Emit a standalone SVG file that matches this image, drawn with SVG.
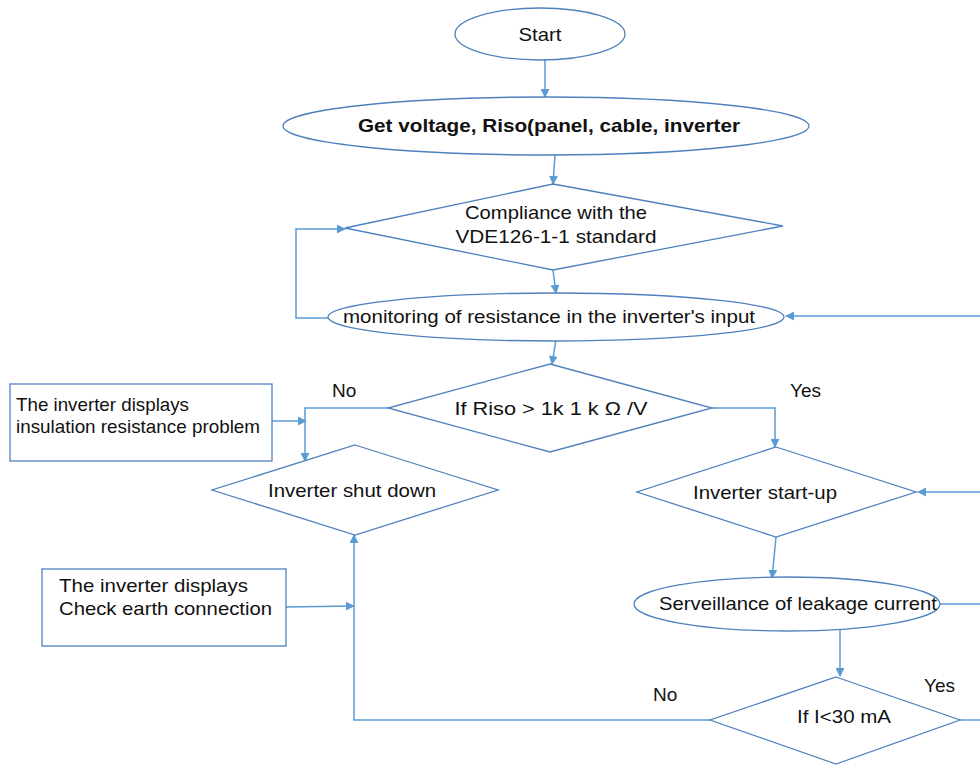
<svg xmlns="http://www.w3.org/2000/svg" width="980" height="765" viewBox="0 0 980 765">
<style>
.s{fill:#fff;stroke:#4f81bd;stroke-width:1.3}
.c{fill:none;stroke:#5b9bd5;stroke-width:1.5}
text{font-family:"Liberation Sans",Arial,sans-serif;font-size:19px;fill:#111}
.m{text-anchor:middle}
</style>
<defs>
<marker id="a" viewBox="0 0 10 10" refX="9" refY="5" markerWidth="9" markerHeight="9" markerUnits="userSpaceOnUse" orient="auto">
<path d="M0,0 L10,5 L0,10 z" fill="#5b9bd5"/>
</marker>
</defs>
<rect width="980" height="765" fill="#fff"/>
<g id="connectors">
<path class="c" d="M545,60 L545,97" marker-end="url(#a)"/>
<path class="c" d="M555,155 L553,184" marker-end="url(#a)"/>
<path class="c" d="M553,270 L556,293" marker-end="url(#a)"/>
<path class="c" d="M328,318 L296,318 L296,229 L345,229" marker-end="url(#a)"/>
<path class="c" d="M980,316 L786,316" marker-end="url(#a)"/>
<path class="c" d="M556,340 L552,364" marker-end="url(#a)"/>
<path class="c" d="M388,408 L305,408 L305,461" marker-end="url(#a)"/>
<path class="c" d="M272,421 L306,421" marker-end="url(#a)"/>
<path class="c" d="M712,408 L775,408 L775,447" marker-end="url(#a)"/>
<path class="c" d="M980,492 L918,492" marker-end="url(#a)"/>
<path class="c" d="M776,537 L772,578" marker-end="url(#a)"/>
<path class="c" d="M940,604 L980,604"/>
<path class="c" d="M840,630 L840,676" marker-end="url(#a)"/>
<path class="c" d="M710,720 L354,720 L354,535" marker-end="url(#a)"/>
<path class="c" d="M960,720 L980,720"/>
<path class="c" d="M286,607 L354,606" marker-end="url(#a)"/>
</g>
<g id="start">
<ellipse class="s" cx="540" cy="34" rx="85" ry="26"/>
<text class="m" x="540" y="41" font-size="20" textLength="43" lengthAdjust="spacingAndGlyphs">Start</text>
</g>
<g id="get-voltage">
<ellipse class="s" cx="546" cy="126" rx="263" ry="29"/>
<text class="m" x="549" y="132" font-weight="bold" textLength="382" lengthAdjust="spacingAndGlyphs">Get voltage, Riso(panel, cable, inverter</text>
</g>
<g id="compliance">
<polygon class="s" points="553,184 783,226 553,270 345,228"/>
<text class="m" x="556" y="219" textLength="182" lengthAdjust="spacingAndGlyphs">Compliance with the</text>
<text class="m" x="556" y="243" textLength="201" lengthAdjust="spacingAndGlyphs">VDE126-1-1 standard</text>
</g>
<g id="monitoring">
<ellipse class="s" cx="556" cy="317" rx="228" ry="24"/>
<text class="m" x="549" y="323" textLength="412" lengthAdjust="spacingAndGlyphs">monitoring of resistance in the inverter's input</text>
</g>
<g id="riso-check">
<polygon class="s" points="550,364 712,408 550,452 388,408"/>
<text class="m" x="551" y="415" textLength="193" lengthAdjust="spacingAndGlyphs">If Riso &gt; 1k 1 k Ω /V</text>
<text x="332" y="397">No</text>
<text x="790" y="397">Yes</text>
</g>
<g id="box-insulation">
<rect class="s" x="10" y="384" width="262" height="77"/>
<text x="16" y="411" font-size="17" textLength="173" lengthAdjust="spacingAndGlyphs">The inverter displays</text>
<text x="16" y="433" font-size="17" textLength="244" lengthAdjust="spacingAndGlyphs">insulation resistance problem</text>
</g>
<g id="shutdown">
<polygon class="s" points="355,445 498,490 355,535 212,490"/>
<text class="m" x="352" y="497" textLength="168" lengthAdjust="spacingAndGlyphs">Inverter  shut down</text>
</g>
<g id="startup">
<polygon class="s" points="776,447 916,492 776,537 637,492"/>
<text class="m" x="765" y="499" textLength="144" lengthAdjust="spacingAndGlyphs">Inverter  start-up</text>
</g>
<g id="leakage">
<ellipse class="s" cx="787" cy="604" rx="153" ry="27"/>
<text class="m" x="798" y="610" textLength="278" lengthAdjust="spacingAndGlyphs">Serveillance  of leakage current</text>
</g>
<g id="current-check">
<polygon class="s" points="836,677 960,720 836,764 710,720"/>
<text class="m" x="844" y="723" textLength="94" lengthAdjust="spacingAndGlyphs">If I&lt;30  mA</text>
<text x="653" y="701">No</text>
<text x="924" y="692">Yes</text>
</g>
<g id="box-earth">
<rect class="s" x="42" y="569" width="244" height="77"/>
<text x="59" y="592" textLength="189" lengthAdjust="spacingAndGlyphs">The inverter displays</text>
<text x="59" y="615" textLength="213" lengthAdjust="spacingAndGlyphs">Check earth connection</text>
</g>
</svg>
